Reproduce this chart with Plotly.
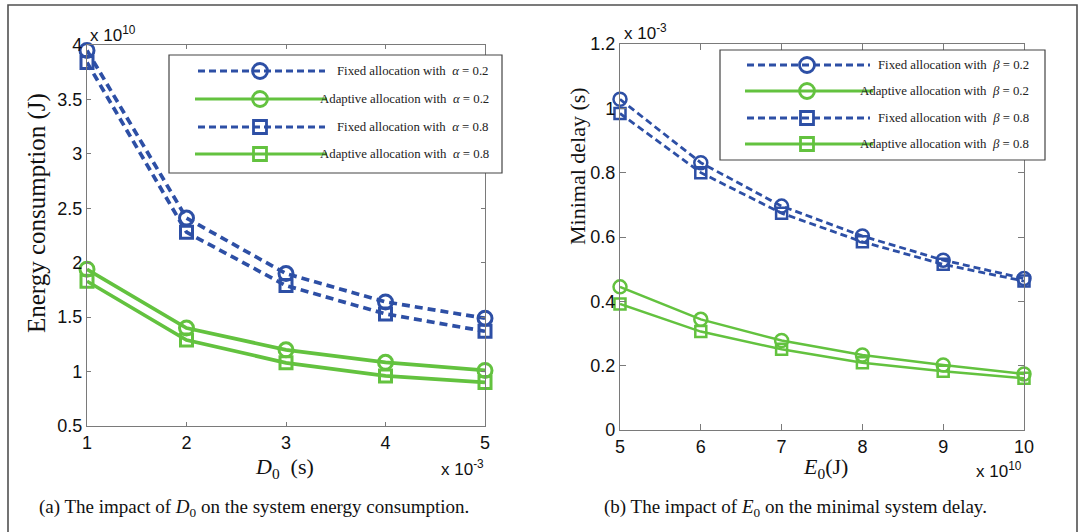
import plotly.graph_objects as go

W, H = 1085, 532

# ---------------- data ----------------
# Panel (a): energy consumption (x 10^10 J) vs D0 (x 10^-3 s)
d0_values = [1, 2, 3, 4, 5]
energy_fixed_a02 = [3.95, 2.41, 1.90, 1.64, 1.49]
energy_adapt_a02 = [1.94, 1.40, 1.20, 1.085, 1.01]
energy_fixed_a08 = [3.84, 2.28, 1.79, 1.53, 1.37]
energy_adapt_a08 = [1.83, 1.29, 1.08, 0.96, 0.90]

# Panel (b): minimal delay (x 10^-3 s) vs E0 (x 10^10 J)
e0_values = [5, 6, 7, 8, 9, 10]
delay_fixed_b02 = [1.028, 0.831, 0.696, 0.603, 0.528, 0.471]
delay_adapt_b02 = [0.445, 0.344, 0.278, 0.233, 0.202, 0.174]
delay_fixed_b08 = [0.984, 0.800, 0.674, 0.585, 0.515, 0.463]
delay_adapt_b08 = [0.392, 0.306, 0.251, 0.209, 0.183, 0.161]

legend_a = ["Fixed allocation with  <i>α</i> = 0.2",
            "Adaptive allocation with  <i>α</i> = 0.2",
            "Fixed allocation with  <i>α</i> = 0.8",
            "Adaptive allocation with  <i>α</i> = 0.8"]
legend_b = ["Fixed allocation with  <i>β</i> = 0.2",
            "Adaptive allocation with  <i>β</i> = 0.2",
            "Fixed allocation with  <i>β</i> = 0.8",
            "Adaptive allocation with  <i>β</i> = 0.8"]

BLUE = "#2d4fa5"
GREEN = "#63c23f"
AXC = "#7a7a7a"
SANS = "Liberation Sans, Arial, sans-serif"
SERIF = "Liberation Serif, Times New Roman, serif"


def px(x):
    return x / W


def py(y):
    return 1 - y / H


fig = go.Figure()

# ---------------- panel (a) traces ----------------
series_a = [
    (energy_fixed_a02, BLUE, "circle-open", "8px,5px", legend_a[0]),
    (energy_adapt_a02, GREEN, "circle-open", "solid", legend_a[1]),
    (energy_fixed_a08, BLUE, "square-open", "8px,5px", legend_a[2]),
    (energy_adapt_a08, GREEN, "square-open", "solid", legend_a[3]),
]
for vals, col, sym, dash, name in series_a:
    fig.add_trace(go.Scatter(
        x=d0_values, y=vals, mode="lines+markers", name=name,
        line=dict(color=col, width=3.7, dash=dash),
        marker=dict(symbol=sym, size=14 if "circle" in sym else 12,
                    color=col, line=dict(color=col, width=3)),
        cliponaxis=False, showlegend=False, xaxis="x", yaxis="y"))

# ---------------- panel (b) traces ----------------
series_b = [
    (delay_fixed_b02, BLUE, "circle-open", "7px,4px", legend_b[0]),
    (delay_adapt_b02, GREEN, "circle-open", "solid", legend_b[1]),
    (delay_fixed_b08, BLUE, "square-open", "7px,4px", legend_b[2]),
    (delay_adapt_b08, GREEN, "square-open", "solid", legend_b[3]),
]
for vals, col, sym, dash, name in series_b:
    fig.add_trace(go.Scatter(
        x=e0_values, y=vals, mode="lines+markers", name=name,
        line=dict(color=col, width=2.8 if col == BLUE else 2.5, dash=dash),
        marker=dict(symbol=sym, size=13 if "circle" in sym else 11,
                    color=col, line=dict(color=col, width=2.5)),
        cliponaxis=False, showlegend=False, xaxis="x2", yaxis="y2"))

axis_common = dict(showline=True, linecolor=AXC, linewidth=1.3, mirror="ticks",
                   ticks="inside", tickcolor=AXC, showgrid=False, zeroline=False,
                   automargin=False,
                   tickfont=dict(family=SANS, size=18, color="#111"))

fig.update_layout(
    template="none",
    width=W, height=H, autosize=False,
    margin=dict(l=0, r=0, t=0, b=0, pad=0),
    paper_bgcolor="white", plot_bgcolor="white",
    showlegend=False,
    xaxis=dict(domain=[px(87), px(485)], range=[1, 5], tickvals=d0_values,
               anchor="y", ticklen=4, **axis_common),
    yaxis=dict(domain=[py(426), py(45)], range=[0.5, 4],
               tickvals=[0.5, 1, 1.5, 2, 2.5, 3, 3.5, 4], anchor="x", ticklen=4,
               **axis_common),
    xaxis2=dict(domain=[px(620), px(1024)], range=[5, 10], tickvals=e0_values,
                anchor="y2", ticklen=6, **axis_common),
    yaxis2=dict(domain=[py(430), py(44)], range=[0, 1.2],
                tickvals=[0, 0.2, 0.4, 0.6, 0.8, 1.0, 1.2], anchor="x2", ticklen=6,
                **axis_common),
)

shapes = []
annotations = []

# outer frame
shapes.append(dict(type="rect", xref="paper", yref="paper",
                   x0=px(8), x1=px(1077), y0=py(540), y1=py(5),
                   line=dict(color="#505050", width=1.6), fillcolor="rgba(0,0,0,0)",
                   layer="below"))


def add_legend(box, rows, line_x, marker_x, text_x, labels, dashes, widths, msize, font_size):
    x0, y0, x1, y1 = box
    shapes.append(dict(type="rect", xref="paper", yref="paper",
                       x0=px(x0), x1=px(x1), y0=py(y1), y1=py(y0),
                       line=dict(color="#444", width=1.2), fillcolor="white"))
    cols = [BLUE, GREEN, BLUE, GREEN]
    kinds = ["circle", "circle", "rect", "rect"]
    for i, yy in enumerate(rows):
        lx0, lx1 = line_x[i % 2]
        shapes.append(dict(type="line", xref="paper", yref="paper",
                           x0=px(lx0), x1=px(lx1), y0=py(yy), y1=py(yy),
                           line=dict(color=cols[i], width=widths[i % 2], dash=dashes[i % 2])))
        r = msize[0] / 2 if kinds[i] == "circle" else msize[1] / 2
        shapes.append(dict(type=kinds[i], xref="paper", yref="paper",
                           xsizemode="pixel", ysizemode="pixel",
                           xanchor=px(marker_x), yanchor=py(yy),
                           x0=-r, x1=r, y0=-r, y1=r,
                           line=dict(color=cols[i], width=2.8), fillcolor="rgba(0,0,0,0)"))
        annotations.append(dict(xref="paper", yref="paper", x=px(text_x), y=py(yy),
                                xanchor="right", yanchor="middle", showarrow=False,
                                text=labels[i], font=dict(family=SERIF, size=font_size, color="#222")))


add_legend((169, 55, 502, 173), [71, 99, 127, 154],
           [(198, 325), (195, 327)], 260, 491, legend_a,
           ["7px,4px", "solid"], [3.2, 3.2], (15, 13), 12.8)
add_legend((720, 50, 1045, 160), [65, 91, 118, 144],
           [(747, 870), (745, 873)], 807, 1031, legend_b,
           ["7px,4px", "solid"], [3.0, 3.0], (15, 13), 12.8)


def note(x, y, text, family, size, xanchor="center", angle=0):
    annotations.append(dict(xref="paper", yref="paper", x=px(x), y=py(y),
                            xanchor=xanchor, yanchor="middle", textangle=angle,
                            text=text, showarrow=False,
                            font=dict(family=family, size=size, color="#111")))


# axis titles
note(37, 213, "Energy consumption (J)", SERIF, 25, angle=-90)
note(578, 166, "Minimal delay (s)", SERIF, 22, angle=-90)
note(285, 468, "<i>D</i><sub>0</sub>  (s)", SERIF, 22)
note(825, 468, "<i>E</i><sub>0</sub>(J)", SERIF, 22)
# exponent labels
note(88, 34, "x 10<sup>10</sup>", SANS, 17, xanchor="left")
note(622, 32, "x 10<sup>-3</sup>", SANS, 17, xanchor="left")
note(486, 468, "x 10<sup>-3</sup>", SANS, 17, xanchor="right")
note(1024, 470, "x 10<sup>10</sup>", SANS, 17, xanchor="right")
# captions
note(254, 508, "(a) The impact of <i>D</i><sub>0</sub> on the system energy consumption.", SERIF, 19)
note(795, 508, "(b) The impact of <i>E</i><sub>0</sub> on the minimal system delay.", SERIF, 19)

fig.update_layout(shapes=shapes, annotations=annotations)
fig.write_html("out.html", config={"displayModeBar": False},
               post_script="document.body.style.margin='0';")
